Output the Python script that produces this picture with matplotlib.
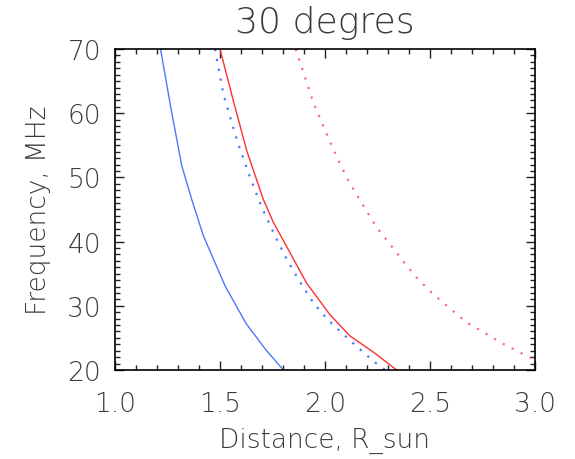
import matplotlib.pyplot as plt
plt.switch_backend('Agg')
import matplotlib
from matplotlib.ticker import MultipleLocator, FormatStrFormatter
plt.rcParams.update({
    'font.size': 19,
    'xtick.labelsize': 19,
    'ytick.labelsize': 19,
    'axes.titlesize': 26,
    'axes.labelsize': 19,
    'font.family': 'DejaVu Sans',
    'font.weight': 'light',
    'axes.titleweight': 'light',
    'axes.labelweight': 'light',
    'text.color': '#3a3a3a',
    'axes.labelcolor': '#3a3a3a',
    'xtick.color': '#222222',
    'ytick.color': '#222222',
    'xtick.labelcolor': '#3a3a3a',
    'ytick.labelcolor': '#3a3a3a',
})

# distance (R_sun) vs frequency (MHz)
blue_solid_r = [1.217, 1.265, 1.318, 1.365, 1.421, 1.524, 1.625, 1.722, 1.802]
blue_solid_f = [70.0, 61.0, 51.8, 46.6, 40.9, 33.1, 27.2, 23.0, 20.0]

red_solid_r = [1.500, 1.563, 1.627, 1.706, 1.754, 1.833, 1.913, 2.024, 2.119, 2.230, 2.341]
red_solid_f = [70.0, 62.0, 54.2, 46.6, 43.0, 38.3, 33.5, 28.6, 25.3, 22.8, 20.0]

blue_dot_r = [1.476, 1.516, 1.556, 1.587, 1.643, 1.698, 1.762, 1.817, 1.881, 1.944,
              2.008, 2.119, 2.230, 2.286]
blue_dot_f = [70.0, 63.0, 58.5, 55.2, 50.0, 45.4, 40.9, 37.3, 33.7, 30.5,
              28.0, 24.6, 21.4, 20.0]

red_dot_r = [1.860, 1.897, 1.944, 1.984, 2.024, 2.068, 2.111, 2.164, 2.246, 2.310, 2.373,
             2.436, 2.516, 2.587, 2.675, 2.754, 2.841, 2.937, 3.000]
red_dot_f = [70.0, 66.4, 61.7, 58.6, 55.5, 52.4, 49.5, 46.6, 42.2, 39.6, 36.9,
             34.4, 31.8, 29.8, 27.4, 25.9, 24.2, 22.6, 21.6]

blue = '#4a78ff'
red = '#ff3030'

fig = plt.figure(figsize=(5.75, 4.6), dpi=100)
ax = fig.add_axes([0.2, 0.1935, 0.7304, 0.6978])

ax.plot(blue_solid_r, blue_solid_f, color=blue, lw=1.0)
ax.plot(red_solid_r, red_solid_f, color=red, lw=1.0)
ax.plot(blue_dot_r, blue_dot_f, color=blue, lw=1.6, linestyle=(0, (1, 3.5)))
ax.plot(red_dot_r, red_dot_f, color=red, lw=1.6, linestyle=(0, (1, 3.5)), alpha=0.7)

ax.set_xlim(1.0, 3.0)
ax.set_ylim(20, 70)
ax.xaxis.set_major_locator(MultipleLocator(0.5))
ax.xaxis.set_minor_locator(MultipleLocator(0.1))
ax.yaxis.set_major_locator(MultipleLocator(10))
ax.yaxis.set_minor_locator(MultipleLocator(1))
ax.xaxis.set_major_formatter(FormatStrFormatter('%.1f'))
ax.tick_params(which='both', direction='in', top=True, right=True, width=1.0)
ax.tick_params(which='major', length=6.5)
ax.tick_params(which='minor', length=3.5)
ax.tick_params(axis='x', which='major', pad=15)
ax.tick_params(axis='y', which='major', pad=10)
for s in ax.spines.values():
    s.set_linewidth(1.2)

ax.set_title('30 degres', pad=12)
ax.set_xlabel('Distance, R_sun', labelpad=8)
ax.set_ylabel('Frequency, MHz', labelpad=12)

plt.savefig('out.png', dpi=100)
